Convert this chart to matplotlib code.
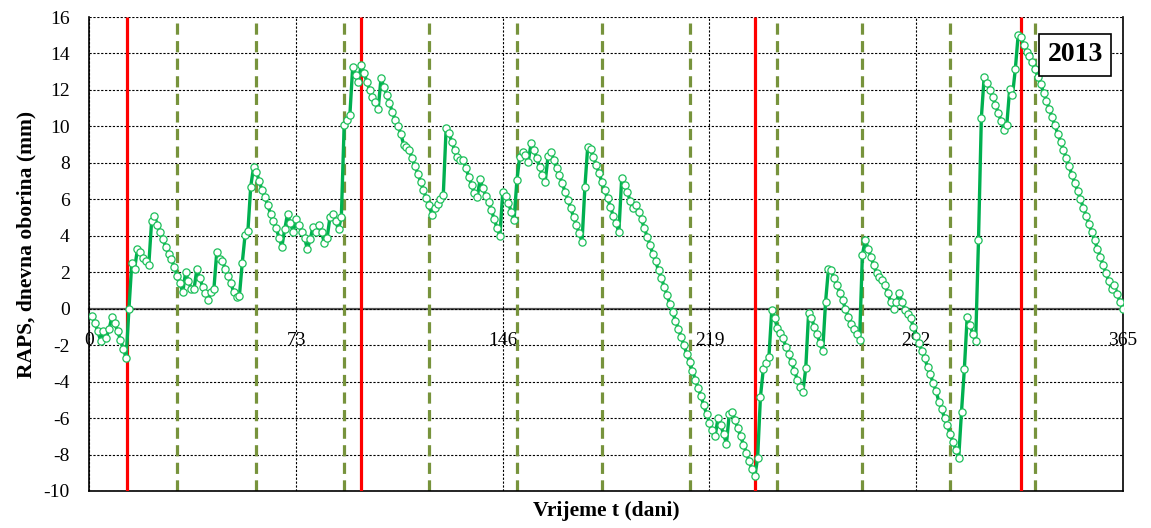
import matplotlib
matplotlib.use('Agg')
import matplotlib.pyplot as plt
import numpy as np

plt.rcParams['font.family'] = ['Liberation Serif', 'DejaVu Serif']
plt.rcParams['axes.unicode_minus'] = False

# RAPS of daily precipitation, 2013, one list per month
raps_jan = [-0.4, -0.8, -1.25, -1.75, -1.2, -1.6, -1.1, -0.45, -0.8, -1.25, -1.7, -2.2, -2.7,
            0.0, 2.5, 2.2, 3.27, 3.1, 2.8, 2.6, 2.4, 4.8, 5.1, 4.6, 4.2, 3.8, 3.4, 3.0, 2.7, 2.3, 1.8]
raps_feb = [1.4, 0.9, 2.0, 1.5, 1.1, 1.1, 2.2, 1.7, 1.2, 0.85, 0.5, 0.9, 1.1,
            3.1, 2.75, 2.6, 2.2, 1.8, 1.4, 0.9, 0.66, 0.7, 2.5, 4.04, 4.25, 6.7, 7.76, 7.5]
raps_mar = [7.0, 6.5, 6.1, 5.7, 5.2, 4.8, 4.4, 3.9, 3.4, 4.35, 5.2, 4.7, 4.2, 4.9, 4.6, 4.2,
            3.9, 3.26, 3.8, 4.5, 4.2, 4.6, 4.2, 3.6, 3.9, 5.05, 5.2, 4.8, 4.35, 5.05, 10.08]
raps_apr = [10.35, 10.6, 13.24, 12.8, 12.45, 13.37, 12.95, 12.45, 12.0, 11.63, 11.36, 10.94,
            12.64, 12.18, 11.72, 11.27, 10.8, 10.35, 10.0, 9.6, 9.0, 8.85, 8.7, 8.25, 7.85, 7.4,
            6.97, 6.5, 6.05, 5.7]
raps_may = [5.14, 5.5, 5.74, 6.0, 6.24, 9.9, 9.65, 9.16, 8.7, 8.3, 8.16, 8.18, 7.7, 7.24, 6.79,
            6.33, 6.14, 7.1, 6.6, 6.2, 5.85, 5.4, 4.9, 4.41, 3.99, 6.42, 6.2, 5.78, 5.32, 4.87, 7.06]
raps_jun = [8.34, 8.61, 8.43, 8.06, 9.07, 8.7, 8.25, 7.79, 7.33, 6.97, 8.38, 8.61, 8.16, 7.7,
            7.33, 6.88, 6.42, 5.96, 5.5, 5.05, 4.59, 4.14, 3.68, 6.66, 8.89, 8.75, 8.3, 7.9, 7.43, 6.97]
raps_jul = [6.5, 6.05, 5.6, 5.1, 4.68, 4.2, 7.15, 6.8, 6.4, 5.9, 5.5, 5.7, 5.3, 4.9, 4.4, 3.95,
            3.5, 3.0, 2.6, 2.1, 1.7, 1.2, 0.75, 0.25, -0.2, -0.65, -1.1, -1.55, -2.0, -2.5, -2.95]
raps_aug = [-3.4, -3.9, -4.35, -4.8, -5.3, -5.8, -6.25, -6.65, -7.0, -6.0, -6.4, -6.9, -7.4,
            -5.75, -5.65, -6.1, -6.55, -7.0, -7.45, -7.9, -8.35, -8.8, -9.2, -8.2, -4.83, -3.33,
            -3.0, -2.63, -0.07, -0.5, -1.08]
raps_sep = [-1.35, -1.62, -2.1, -2.5, -2.95, -3.4, -3.9, -4.3, -4.55, -3.27, -0.25, -0.5, -1.0,
            -1.4, -1.9, -2.3, 0.38, 2.16, 2.1, 1.66, 1.3, 0.88, 0.47, 0.0, -0.45, -0.82, -1.1,
            -1.37, -1.73, 2.95]
raps_oct = [3.77, 3.3, 2.85, 2.4, 1.94, 1.76, 1.6, 1.3, 0.85, 0.38, -0.03, 0.38, 0.85, 0.38,
            -0.05, -0.3, -0.5, -0.99, -1.5, -1.9, -2.3, -2.7, -3.2, -3.6, -4.1, -4.5, -5.1, -5.5,
            -6.0, -6.4, -6.9]
raps_nov = [-7.3, -7.75, -8.2, -5.65, -3.33, -0.44, -0.9, -1.37, -1.8, 3.77, 10.44, 12.73, 12.4,
            12.0, 11.6, 11.2, 10.72, 10.3, 9.8, 10.1, 12.04, 11.7, 13.13, 15.0, 14.9, 14.45, 14.1,
            13.85, 13.55, 13.15]
raps_dec = [12.7, 12.3, 11.85, 11.4, 10.95, 10.5, 10.05, 9.6, 9.15, 8.7, 8.25, 7.8, 7.35, 6.9,
            6.45, 6.0, 5.55, 5.1, 4.65, 4.2, 3.75, 3.3, 2.85, 2.4, 1.95, 1.5, 1.1, 1.3, 0.8, 0.35, 0.0]

months = [raps_jan, raps_feb, raps_mar, raps_apr, raps_may, raps_jun,
          raps_jul, raps_aug, raps_sep, raps_oct, raps_nov, raps_dec]
raps = np.concatenate(months)
days = np.arange(1, len(raps) + 1)

month_ends = np.cumsum([len(m) for m in months])[:-1]
break_days = [13.2, 96, 235.2, 329]
x_ticks = [0, 73, 146, 219, 292, 365]
y_ticks = list(range(-10, 17, 2))

fig = plt.figure(figsize=(11.51, 5.28), dpi=100)
ax = fig.add_axes([0.0776, 0.0701, 0.898, 0.8977])

ax.set_xlim(0, 365)
ax.set_ylim(-10, 16)
ax.set_yticks(y_ticks)
ax.set_xticks(x_ticks)
ax.set_xticklabels([])
ax.tick_params(axis='x', length=0)
ax.tick_params(axis='y', length=0, pad=14, labelsize=14)
ax.grid(True, color='black', linestyle=(0, (2, 1.5)), linewidth=0.8)
ax.set_axisbelow(True)

ax.spines['top'].set_visible(False)
for s in ('left', 'bottom', 'right'):
    ax.spines[s].set_color('black')
    ax.spines[s].set_linewidth(1.2)

# month boundaries and break points
ax.vlines(month_ends, -10, 16, colors='#77933C', linestyles=(0, (3.5, 2)), linewidth=2.3, zorder=2)
ax.vlines(break_days, -10, 16, colors='#FF0000', linewidth=2.3, zorder=3)

ax.plot(days, raps, color='#00B050', linewidth=2.4, marker='o', markersize=5.2,
        markerfacecolor='white', markeredgecolor='#1DBF5A', markeredgewidth=0.9, zorder=4)

# x axis drawn at y = 0 with labels below it
sec = ax.secondary_xaxis(10 / 26)
sec.set_alignment('bottom')
sec.set_xticks(x_ticks)
sec.tick_params(length=0, pad=17, labelsize=14)
for s in sec.spines.values():
    s.set_color('#595959')
    s.set_linewidth(1.6)

ax.set_ylabel('RAPS, dnevna oborina (mm)', fontsize=15.5, fontweight='bold')
ax.yaxis.set_label_coords(-0.051, 0.52)
ax.set_xlabel('Vrijeme t (dani)', fontsize=15.5, fontweight='bold')
ax.xaxis.set_label_coords(0.5, -0.022)

ax.text(0.954, 0.92, '2013', transform=ax.transAxes, ha='center', va='center',
        fontsize=20, fontweight='bold',
        bbox=dict(boxstyle='square,pad=0.3', facecolor='white', edgecolor='black', linewidth=1.2),
        zorder=6)

fig.savefig('out.png', dpi=100)
